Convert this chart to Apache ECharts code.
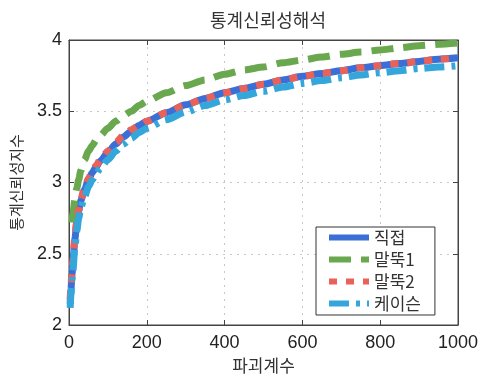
<!DOCTYPE html>
<html>
<head>
<meta charset="utf-8">
<script src="https://cdn.jsdelivr.net/npm/echarts@6/dist/echarts.min.js"></script>
<style>
  html, body { margin: 0; padding: 0; background: #fff; }
  #chart { width: 483px; height: 381px; }
</style>
</head>
<body>
<div id="chart"></div>
<script>
// 파괴계수 (x) sample positions
const failureCounts = [3, 5, 8, 10, 15, 20, 25, 30, 40, 50, 60, 70, 80, 100, 120, 140, 160, 180, 200,
                       250, 300, 350, 400, 450, 500, 550, 600, 650, 700, 750, 800, 850, 900, 950, 1000];

// 통계신뢰성지수 per foundation type
const direct  = [2.15, 2.25, 2.36, 2.43, 2.60, 2.72, 2.80, 2.87, 2.95, 3.02, 3.07, 3.11, 3.15, 3.21, 3.27, 3.32, 3.36, 3.40, 3.43,
                 3.49, 3.545, 3.59, 3.63, 3.66, 3.69, 3.72, 3.745, 3.765, 3.785, 3.805, 3.82, 3.835, 3.85, 3.865, 3.875];
const pile1   = [null, null, 2.72, 2.78, 2.88, 2.96, 3.02, 3.08, 3.16, 3.22, 3.26, 3.30, 3.33, 3.38, 3.43, 3.47, 3.50, 3.54, 3.57,
                 3.63, 3.68, 3.72, 3.76, 3.79, 3.81, 3.84, 3.86, 3.88, 3.90, 3.915, 3.93, 3.945, 3.96, 3.97, 3.98];
const pile2   = [2.18, 2.28, 2.38, 2.45, 2.62, 2.73, 2.81, 2.88, 2.96, 3.03, 3.08, 3.12, 3.16, 3.22, 3.28, 3.33, 3.37, 3.40, 3.43,
                 3.49, 3.545, 3.59, 3.63, 3.66, 3.69, 3.72, 3.745, 3.765, 3.785, 3.805, 3.82, 3.835, 3.85, 3.865, 3.875];
const caisson = [2.12, 2.21, 2.32, 2.38, 2.54, 2.66, 2.75, 2.82, 2.90, 2.97, 3.02, 3.06, 3.10, 3.16, 3.22, 3.27, 3.31, 3.35, 3.38,
                 3.44, 3.495, 3.54, 3.58, 3.61, 3.64, 3.67, 3.695, 3.715, 3.735, 3.755, 3.77, 3.785, 3.80, 3.81, 3.82];

const seriesNames = ['직접', '말뚝1', '말뚝2', '케이슨'];
const seriesColors = ['#3c6fd6', '#6aa84f', '#e8625a', '#34a6dc'];
const yTicks = [2, 2.5, 3, 3.5, 4];
const xTicks = [0, 200, 400, 600, 800, 1000];

const pairs = ys => failureCounts.map((x, i) => [x, ys[i]]).filter(p => p[1] !== null);

const tickFont = { fontFamily: 'Liberation Sans', fontSize: 18, color: '#222' };
const krFont = 'Noto Sans CJK KR';

const chart = echarts.init(document.getElementById('chart'), null, { renderer: 'canvas' });

const gridLine = { show: true, lineStyle: { color: '#c8c8c8', type: [2, 5], width: 1 } };
const boxAxis = {
  axisLine: { show: true, onZero: false, lineStyle: { color: '#444' } },
  axisTick: { show: true, inside: true, length: 5, lineStyle: { color: '#444' } }
};

function lineSeries(name, values, color, dash) {
  return {
    name, type: 'line', data: pairs(values),
    smooth: 0.25, smoothMonotone: 'x', showSymbol: false, symbol: 'none',
    lineStyle: { color, width: 7, type: dash, cap: 'butt' },
    itemStyle: { color }
  };
}

chart.setOption({
  animation: false,
  backgroundColor: '#fff',
  title: {
    text: '통계신뢰성해석',
    left: 263, top: 6, textAlign: 'center',
    textStyle: { fontFamily: krFont, fontSize: 18, fontWeight: 'normal', color: '#333' }
  },
  grid: { left: 69, right: 25, top: 40, bottom: 56, show: true, borderColor: '#444', borderWidth: 1 },
  legend: {
    orient: 'vertical',
    left: 316, top: 227,
    padding: [2, 14, 3, 10],
    itemGap: 5,
    itemWidth: 40, itemHeight: 14,
    backgroundColor: '#fff',
    borderColor: '#333', borderWidth: 1, borderRadius: 0,
    data: seriesNames,
    itemStyle: { color: 'rgba(0,0,0,0)', borderWidth: 0, opacity: 0 },
    lineStyle: { width: 6 },
    textStyle: { fontFamily: krFont, fontSize: 17, color: '#333' }
  },
  xAxis: [Object.assign({
    type: 'value', min: 0, max: 1000, interval: 200,
    name: '파괴계수', nameLocation: 'middle', nameGap: 31,
    nameTextStyle: { fontFamily: krFont, fontSize: 17, color: '#333' },
    axisLabel: Object.assign({ margin: 9, formatter: v => xTicks.includes(v) ? String(v) : '' }, tickFont),
    splitLine: gridLine
  }, boxAxis), Object.assign({
    type: 'value', min: 0, max: 1000, interval: 200, position: 'top',
    axisLabel: { show: false }, splitLine: { show: false }
  }, boxAxis)],
  yAxis: [Object.assign({
    type: 'value', min: 2, max: 4, interval: 0.5,
    name: '통계신뢰성지수', nameLocation: 'middle', nameGap: 45, nameRotate: 90,
    nameTextStyle: { fontFamily: krFont, fontSize: 15, color: '#333' },
    axisLabel: Object.assign({ margin: 7, formatter: v => yTicks.includes(v) ? String(v) : '' }, tickFont),
    splitLine: gridLine
  }, boxAxis), Object.assign({
    type: 'value', min: 2, max: 4, interval: 0.5, position: 'right',
    axisLabel: { show: false }, splitLine: { show: false }
  }, boxAxis)],
  series: [
    lineSeries(seriesNames[0], direct,  seriesColors[0], 'solid'),
    lineSeries(seriesNames[1], pile1,   seriesColors[1], [22, 10]),
    lineSeries(seriesNames[2], pile2,   seriesColors[2], [8, 9]),
    lineSeries(seriesNames[3], caisson, seriesColors[3], [20, 7, 4, 7])
  ]
});
</script>
</body>
</html>
